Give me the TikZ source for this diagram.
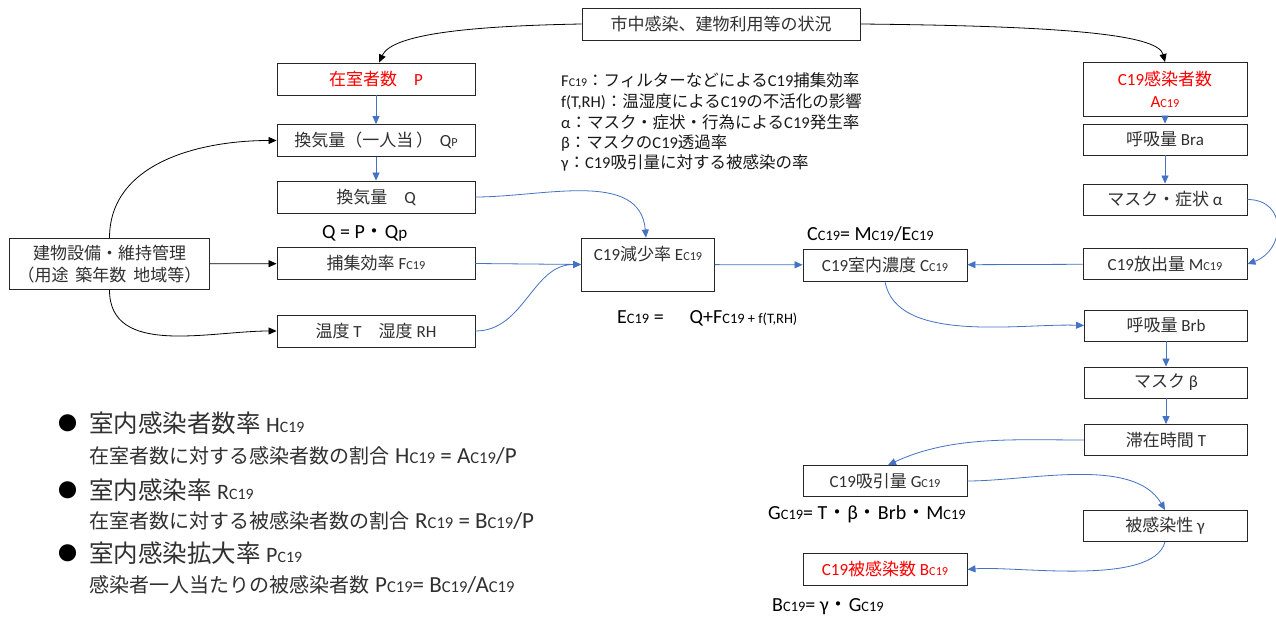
\documentclass[tikz,border=0pt]{standalone}
\usepackage{fontspec}
\usepackage{graphicx}
\setmainfont{Carlito}
\newfontfamily\jp{Noto Sans CJK JP}
\usetikzlibrary{arrows.meta}
\newXeTeXintercharclass\jpcls
\newcount\jpc
\jpc="3000
\loop \XeTeXcharclass\jpc=\jpcls \advance\jpc by 1 \ifnum\jpc<"A000 \repeat
\jpc="FF00
\loop \XeTeXcharclass\jpc=\jpcls \advance\jpc by 1 \ifnum\jpc<"FFF0 \repeat
\XeTeXcharclass"25CF=\jpcls
\XeTeXinterchartoks 0 \jpcls = {\begingroup\jp}
\XeTeXinterchartoks 4095 \jpcls = {\begingroup\jp}
\XeTeXinterchartoks \jpcls 0 = {\endgroup}
\XeTeXinterchartoks \jpcls 4095 = {\endgroup}
\XeTeXinterchartokenstate=1
\definecolor{lblue}{HTML}{4472C4}
\definecolor{tx}{HTML}{303030}
\newcommand\subc[1]{\scalebox{0.72}{#1}}
\begin{document}
\begin{tikzpicture}[x=1pt,y=-1pt,
 bx/.style={draw=black!85,line width=0.9pt,text=tx,font=\fontsize{17}{22}\selectfont,inner sep=0pt,minimum height=32pt},
 lbl/.style={text=black,font=\fontsize{20}{24}\selectfont,inner sep=0pt,anchor=west},
 leg/.style={text=black!90,font=\fontsize{16.5}{20}\selectfont,inner sep=0pt,anchor=west},
 bigt/.style={text=tx,font=\fontsize{24.5}{28}\selectfont,inner sep=0pt,anchor=west},
 subt/.style={text=tx,font=\fontsize{20}{24}\selectfont,inner sep=0pt,anchor=west},
 bul/.style={text=black,font=\fontsize{19}{22}\selectfont,inner sep=0pt},
 barr/.style={draw=lblue,line width=0.8pt,-{Triangle[length=8pt,width=7pt]}},
 karr/.style={draw=black,line width=0.8pt,-{Triangle[length=8pt,width=7pt]}},
 rtxt/.style={text=red}
]
\fill[white] (0,0) rectangle (1276,617);
\useasboundingbox (0,0) rectangle (1276,617);

% boxes left
\node[bx,minimum width=278pt] (top) at (721,24) {市中感染、建物利用等の状況};
\node[bx,rtxt,minimum width=198pt] (P) at (376,79) {在室者数　P};
\node[bx,minimum width=198pt] (Qp) at (376,140.5) {換気量（一人当\,）\hspace{0.4em}Q\subc{P}};
\node[bx,minimum width=198pt] (Q) at (376,197) {換気量　Q};
\node[bx,minimum width=198pt] (F) at (376,263.5) {捕集効率 F\subc{C19}};
\node[bx,minimum width=198pt] (TR) at (376,331) {温度 T　湿度 RH};
\node[bx,minimum width=200pt,minimum height=51pt,align=center] (bld) at (109.5,264) {建物設備・維持管理\\（用途\hspace{.4em}築年数\hspace{.4em}地域等）};
% middle
\node[bx,minimum width=133pt,text height=23pt,text depth=30pt,inner ysep=0pt] (E) at (648,264.5) {C19減少率 E\subc{C19}};
\node[bx,minimum width=164pt] (C) at (885,265) {C19室内濃度 C\subc{C19}};
% right column
\node[bx,rtxt,minimum width=164pt,minimum height=54pt,align=center] (A) at (1165,89.5) {C19感染者数\\A\subc{C19}};
\node[bx,minimum width=164pt,minimum height=31pt] (Bra) at (1165,139.5) {呼吸量 Bra};
\node[bx,minimum width=164pt,minimum height=31pt] (al) at (1165,199.5) {マスク・症状 α};
\node[bx,minimum width=164pt,minimum height=31pt] (M) at (1165,264) {C19放出量 M\subc{C19}};
\node[bx,minimum width=163pt,minimum height=31pt] (Brb) at (1166,325.5) {呼吸量 Brb};
\node[bx,minimum width=163pt,minimum height=31pt] (be) at (1166,382.5) {マスク β};
\node[bx,minimum width=163pt,minimum height=31pt] (Ts) at (1166,440) {滞在時間 T};
\node[bx,minimum width=164pt,minimum height=31pt] (G) at (885,481) {C19吸引量 G\subc{C19}};
\node[bx,minimum width=164pt,minimum height=31pt] (ga) at (1165,526) {被感染性 γ};
\node[bx,rtxt,minimum width=164pt] (B) at (885,569.5) {C19被感染数 B\subc{C19}};

% formula labels
\node[lbl] (fQ) at (322,233) {Q = P・Q\scalebox{0.85}{p}};
\node[lbl] (fE) at (617,318) {E\subc{C19} =\hspace{1.3em}Q+F\subc{C19}\subc{\ +\ f(T,RH)}};
\node[lbl] (fC) at (807,234) {C\subc{C19}= M\subc{C19}/E\subc{C19}};
\node[lbl] (fG) at (768,514) {G\subc{C19}= T・β・Brb・M\subc{C19}};
\node[lbl] (fB) at (772,607) {B\subc{C19}= γ・G\subc{C19}};

% legend
\node[leg] (l1) at (561,80) {F\subc{C19}：フィルターなどによるC19捕集効率};
\node[leg] (l2) at (561,101.5) {f(T,RH)：温湿度によるC19の不活化の影響};
\node[leg] (l3) at (561,122.5) {α：マスク・症状・行為によるC19発生率};
\node[leg] (l4) at (561,143) {β：マスクのC19透過率};
\node[leg] (l5) at (561,163) {γ：C19吸引量に対する被感染の率};

% bottom-left definitions
\node[bul] (b1) at (68,423) {●};
\node[bigt] (h1) at (89,423) {室内感染者数率 {\fontsize{22}{26}\selectfont H\subc{C19}}};
\node[subt] (h1s) at (89,456) {在室者数に対する感染者数の割合\hspace{.3em}{\fontsize{23}{26}\selectfont H\subc{C19} = A\subc{C19}/P}};
\node[bul] (b2) at (68,490) {●};
\node[bigt] (h2) at (89,490) {室内感染率 {\fontsize{22}{26}\selectfont R\subc{C19}}};
\node[subt] (h2s) at (89,521) {在室者数に対する被感染者数の割合\hspace{.3em}{\fontsize{23}{26}\selectfont R\subc{C19} = B\subc{C19}/P}};
\node[bul] (b3) at (68,553) {●};
\node[bigt] (h3) at (89,553) {室内感染拡大率 {\fontsize{22}{26}\selectfont P\subc{C19}}};
\node[subt] (h3s) at (89,585) {感染者一人当たりの被感染者数\hspace{.3em}{\fontsize{23}{26}\selectfont P\subc{C19}= B\subc{C19}/A\subc{C19}}};

% black connectors
\draw[karr] (top.west) .. controls (470,26) and (392,34) .. ([xshift=3pt]P.north);
\draw[karr] (top.east) .. controls (1060,26) and (1158,34) .. (A.north);
\draw[karr] (bld.north) to[out=90,in=180] (Qp.west);
\draw[karr] (bld) -- (F);
\draw[karr] (bld.south) to[out=-90,in=180] (TR.west);

% blue connectors
\draw[barr] (P) -- (Qp);
\draw[barr] (Qp) -- (Q);
\draw[barr] (Q.east) to[out=0,in=95] ([xshift=-2pt]E.north);
\draw[barr] (F.east) -- (E.west);
\draw[barr] (TR.east) to[out=0,in=180] (E.west);
\draw[barr] (E) -- (C);
\draw[barr] (M) -- (C);
\draw[barr] (C.south) to[out=-80,in=178,looseness=0.8] (Brb.west);
\draw[barr] (A) -- (Bra);
\draw[barr] (Bra) -- (al);
\draw[barr] (al.east) to[out=0,in=20,looseness=1.6] (M.east);
\draw[barr] (Brb) -- (be);
\draw[barr] (be) -- (Ts);
\draw[barr] (Ts.west) to[out=180,in=25,looseness=0.9] ([xshift=3pt]G.north);
\draw[barr] (G.east) to[out=0,in=120,looseness=0.8] (ga.north);
\draw[barr] (ga.south) to[out=-105,in=5,looseness=0.6] (B.east);
\end{tikzpicture}
\end{document}
